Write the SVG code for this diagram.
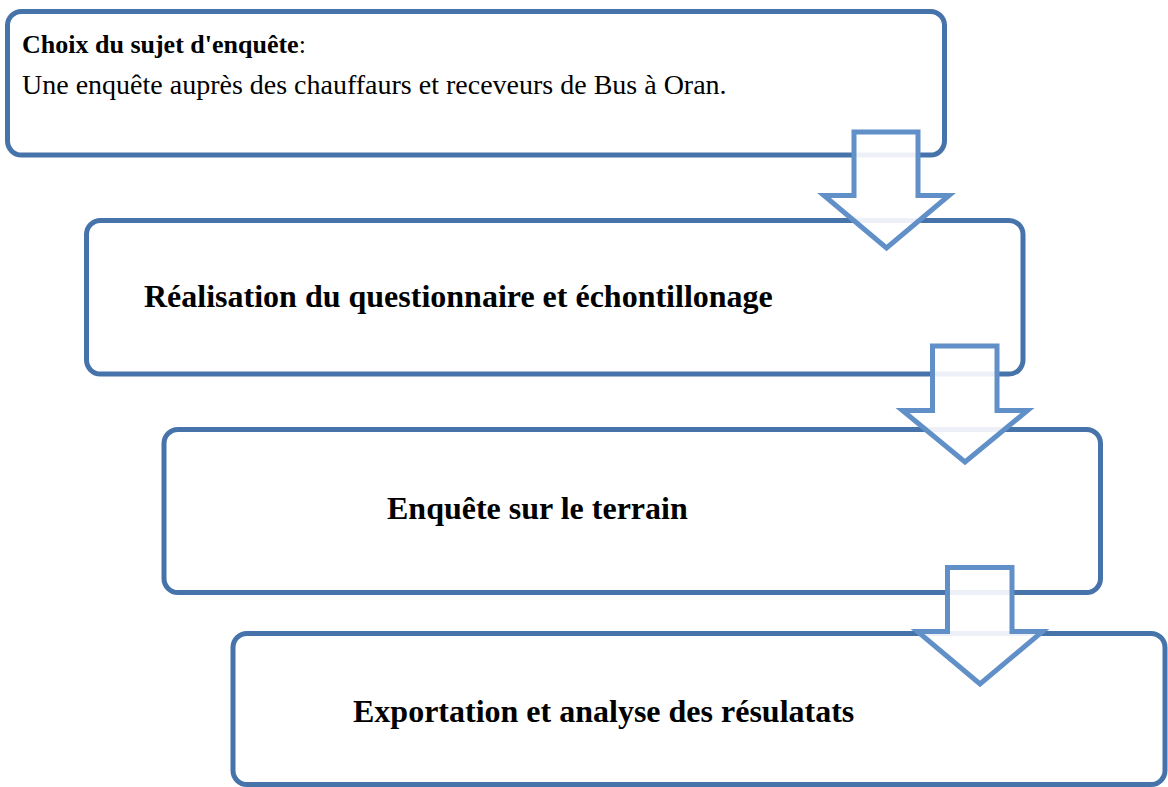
<svg xmlns="http://www.w3.org/2000/svg" width="1168" height="787" viewBox="0 0 1168 787">
<style>
.box{fill:#ffffff;stroke:#4673a9;stroke-width:5}
.arrow{fill:#ffffff;fill-opacity:0.9;stroke:#6190c8;stroke-width:5;stroke-linejoin:miter}
.t{font-family:"Liberation Serif","Times New Roman",serif;fill:#000}
.h{font-size:32px;font-weight:bold}
.b1{font-size:26px;font-weight:bold}
.r1{font-size:28px}
</style>
<rect width="1168" height="787" fill="#ffffff"/>
<g id="node1">
<rect class="box" x="7.5" y="11.5" width="937" height="143.5" rx="14"/>
<text class="t b1" x="22" y="53">Choix du sujet d'enquête<tspan font-weight="normal">:</tspan></text>
<text class="t r1" x="22" y="94">Une enquête auprès des chauffaurs et receveurs de Bus à Oran.</text>
</g>
<g id="node2">
<rect class="box" x="86.5" y="220.5" width="936.5" height="153.5" rx="14"/>
<text class="t h" x="144" y="307">Réalisation du questionnaire et échontillonage</text>
</g>
<g id="node3">
<rect class="box" x="164" y="429.5" width="936.5" height="163" rx="14"/>
<text class="t h" x="387" y="519">Enquête sur le terrain</text>
</g>
<g id="node4">
<rect class="box" x="233" y="633.5" width="932" height="151" rx="14"/>
<text class="t h" x="353" y="722">Exportation et analyse des résulatats</text>
</g>
<g id="connectors">
<polygon class="arrow" points="854,132 918,132 918,195.5 949,195.5 886.5,248 824,195.5 854,195.5"/>
<polygon class="arrow" points="932.5,346 997,346 997,410.5 1027.5,410.5 965,462 902.5,410.5 932.5,410.5"/>
<polygon class="arrow" points="947.5,567.5 1012,567.5 1012,631.5 1042.5,631.5 980,684 917.5,631.5 947.5,631.5"/>
</g>
</svg>
